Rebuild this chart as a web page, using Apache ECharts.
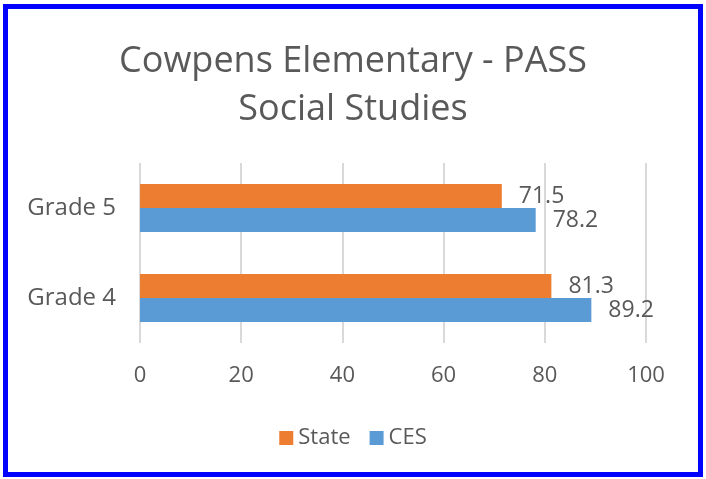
<!DOCTYPE html>
<html>
<head>
<meta charset="utf-8">
<script src="https://cdn.jsdelivr.net/npm/echarts@6/dist/echarts.min.js"></script>
<style>
html,body{margin:0;padding:0;background:#fff;}
#wrap{position:relative;width:706px;height:479px;}
#chart{position:absolute;left:0;top:0;width:706px;height:479px;}
#frame{position:absolute;left:3px;top:4px;width:690px;height:463px;border:5px solid #0000FF;pointer-events:none;}
</style>
</head>
<body>
<div id="wrap"><div id="chart"></div><div id="frame"></div></div>
<script>
const titleText = 'Cowpens Elementary - PASS\nSocial Studies';
const categories = ['Grade 4', 'Grade 5'];
const seriesNames = ['State', 'CES'];
const stateValues = [81.3, 71.5];
const cesValues = [89.2, 78.2];
const xTicks = { min: 0, max: 100, interval: 20 };

const FONT = 'Open Sans';
const GRAY = '#595959';
const chart = echarts.init(document.getElementById('chart'), null, { renderer: 'canvas' });
const labelCfg = { show: true, position: 'right', distance: 17, color: GRAY, fontSize: 23, fontFamily: FONT };
chart.setOption({
  animation: false,
  backgroundColor: '#ffffff',
  title: {
    text: titleText, left: 'center', top: 33,
    textStyle: { fontFamily: FONT, fontSize: 36, fontWeight: 'normal', color: GRAY, lineHeight: 48 }
  },
  legend: {
    data: seriesNames, top: 422, left: 'center', itemWidth: 14, itemHeight: 14, itemGap: 19,
    icon: 'rect',
    textStyle: { fontFamily: FONT, fontSize: 22, color: GRAY }
  },
  grid: { left: 140, right: 60, top: 163, bottom: 136, containLabel: false },
  xAxis: {
    type: 'value', min: xTicks.min, max: xTicks.max, interval: xTicks.interval,
    axisLine: { show: false }, axisTick: { show: false },
    splitLine: { show: true, lineStyle: { color: '#D9D9D9', width: 2 } },
    axisLabel: { fontFamily: FONT, fontSize: 22, color: GRAY, margin: 22 }
  },
  yAxis: {
    type: 'category', data: categories,
    axisLine: { show: false }, axisTick: { show: false },
    axisLabel: { fontFamily: FONT, fontSize: 24, color: GRAY, margin: 24 }
  },
  series: [
    { name: 'State', type: 'bar', data: stateValues, barWidth: 24, barGap: '0%', itemStyle: { color: '#ED7D31' }, label: labelCfg },
    { name: 'CES', type: 'bar', data: cesValues, barWidth: 24, barGap: '0%', itemStyle: { color: '#5B9BD5' }, label: labelCfg }
  ]
});
</script>
</body>
</html>
